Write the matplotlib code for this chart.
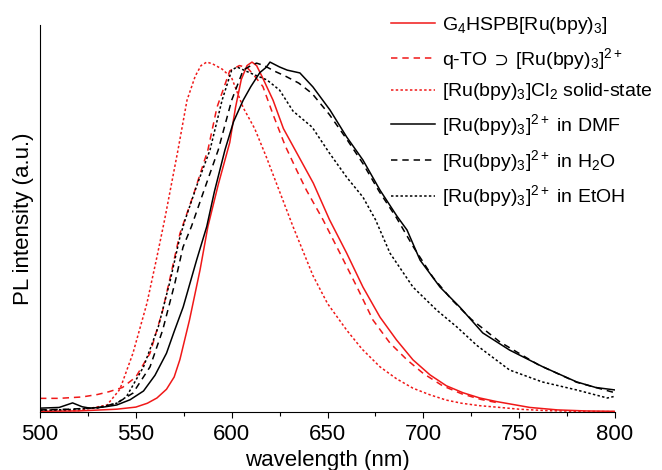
import matplotlib
matplotlib.use("Agg")
import matplotlib.pyplot as plt

plt.rcParams['font.family'] = ['Liberation Sans', 'DejaVu Sans']
plt.rcParams['mathtext.fontset'] = 'custom'
plt.rcParams['mathtext.rm'] = 'Liberation Sans'
plt.rcParams['mathtext.it'] = 'Liberation Sans:italic'
plt.rcParams['mathtext.bf'] = 'Liberation Sans:bold'
plt.rcParams['mathtext.fallback'] = 'stixsans'

# ---- data ----
wl_g4 = [500, 520, 540, 550, 556, 561, 566, 570, 573, 578, 583.5, 587.6, 593, 599, 602, 605, 608, 610.6,
         613, 616, 621.6, 627, 634, 642.6, 651, 660, 668.5, 677.4, 686, 694.6, 703.5, 712, 720.7, 729.5,
         738, 755.6, 770, 785, 800]
pl_g4 = [0.002, 0.003, 0.008, 0.014, 0.025, 0.04, 0.065, 0.10, 0.15, 0.263, 0.406, 0.53, 0.65, 0.77, 0.87,
         0.95, 0.99, 1.0, 0.99, 0.957, 0.891, 0.81, 0.74, 0.654, 0.55, 0.454, 0.357, 0.271, 0.206, 0.149,
         0.106, 0.075, 0.055, 0.04, 0.030, 0.013, 0.006, 0.003, 0.002]

wl_qto = [500, 510, 522, 530, 536, 543, 550, 557.4, 564, 568.8, 573, 580, 587.6, 592.3, 599, 604, 608, 612,
          616.3, 621.6, 628, 634, 639, 647.7, 656.5, 665.4, 673.7, 682.6, 691.5, 700, 710, 720, 730, 740]
pl_qto = [0.039, 0.039, 0.043, 0.05, 0.058, 0.07, 0.10, 0.168, 0.29, 0.406, 0.51, 0.62, 0.749, 0.87, 0.975,
          0.99, 0.985, 0.96, 0.93, 0.85, 0.76, 0.69, 0.634, 0.549, 0.454, 0.357, 0.263, 0.197, 0.149, 0.11,
          0.075, 0.052, 0.036, 0.025]

wl_solid = [500, 520, 535, 541.7, 548.5, 555.8, 561, 565, 572, 576.7, 581, 584, 587, 590, 595, 600, 606, 612,
            618, 625, 632, 642.4, 650, 660, 668, 677.4, 686, 694.6, 703.5, 712, 720, 729.5, 738, 750, 764,
            780, 800]
pl_solid = [0.004, 0.004, 0.02, 0.065, 0.168, 0.311, 0.443, 0.549, 0.749, 0.891, 0.96, 0.99, 1.0, 0.995, 0.98,
            0.955, 0.87, 0.81, 0.73, 0.63, 0.53, 0.39, 0.31, 0.234, 0.18, 0.129, 0.095, 0.068, 0.049, 0.034,
            0.025, 0.018, 0.014, 0.008, 0.004, 0.002, 0.001]

wl_dmf = [500, 510, 517, 522, 526, 533, 540, 547, 554, 560, 566, 570, 574.7, 581.7, 587, 591, 596.5, 601, 606,
          610, 614.7, 618, 620, 625, 629, 635.6, 642.4, 651.3, 660, 668.5, 677.4, 686.2, 691.5, 698.3, 708.7,
          719, 731, 745, 762.4, 780, 790, 800]
pl_dmf = [0.011, 0.013, 0.026, 0.015, 0.011, 0.014, 0.02, 0.035, 0.06, 0.105, 0.168, 0.23, 0.30, 0.434, 0.53,
          0.63, 0.749, 0.83, 0.891, 0.93, 0.97, 0.985, 1.0, 0.986, 0.977, 0.969, 0.929, 0.863, 0.786, 0.72,
          0.634, 0.56, 0.52, 0.434, 0.357, 0.30, 0.226, 0.177, 0.129, 0.086, 0.07, 0.063]

wl_h2o = [500, 515, 530, 540, 548.5, 557.4, 564, 570.4, 574.6, 579, 586, 593, 600, 606, 610, 613, 617, 622,
          628, 635, 642, 651, 660, 668.5, 677, 686, 695, 705, 715, 725, 740, 760, 780, 800]
pl_h2o = [0.006, 0.008, 0.012, 0.025, 0.054, 0.129, 0.234, 0.369, 0.471, 0.53, 0.64, 0.749, 0.891, 0.977,
          0.99, 0.997, 0.99, 0.975, 0.96, 0.94, 0.91, 0.85, 0.78, 0.71, 0.63, 0.555, 0.47, 0.385, 0.32,
          0.265, 0.20, 0.135, 0.085, 0.055]

wl_etoh = [500, 515, 530, 540, 545, 554, 561.7, 568, 573, 575.7, 582, 588.7, 595, 600, 602.8, 609.6, 618.4,
           625, 632, 642, 651, 660, 668.5, 675, 682.6, 694.6, 707, 717.5, 728, 736, 745, 762, 780, 796, 800]
pl_etoh = [0.005, 0.007, 0.012, 0.025, 0.043, 0.129, 0.243, 0.377, 0.5, 0.549, 0.65, 0.749, 0.891, 0.977,
           0.986, 0.969, 0.949, 0.92, 0.86, 0.814, 0.74, 0.671, 0.614, 0.55, 0.454, 0.357, 0.291, 0.243,
           0.19, 0.157, 0.12, 0.086, 0.063, 0.04, 0.045]

labels = [r'G$_4$HSPB[Ru(bpy)$_3$]',
          r'q-TO$\;\supset\;$[Ru(bpy)$_3$]$^{2+}$',
          r'[Ru(bpy)$_3$]Cl$_2$ solid-state',
          r'[Ru(bpy)$_3$]$^{2+}$ in DMF',
          r'[Ru(bpy)$_3$]$^{2+}$ in H$_2$O',
          r'[Ru(bpy)$_3$]$^{2+}$ in EtOH']
xticks = [500, 550, 600, 650, 700, 750, 800]

RED = '#f01818'
DASH = (0, (4.2, 3.2))
DOT = (0, (1.6, 1.5))
fig = plt.figure(figsize=(6.62, 4.70), dpi=100)
ax = fig.add_axes([40/662, 1-412/470, 575/662, 387/470])

lw = 1.1
ax.plot(wl_g4, pl_g4, color=RED, lw=lw, ls='-', label=labels[0])
ax.plot(wl_qto, pl_qto, color=RED, lw=lw, ls=DASH, label=labels[1])
ax.plot(wl_solid, pl_solid, color=RED, lw=lw, ls=DOT, label=labels[2])
ax.plot(wl_dmf, pl_dmf, color='black', lw=lw, ls='-', label=labels[3])
ax.plot(wl_h2o, pl_h2o, color='black', lw=lw, ls=DASH, label=labels[4])
ax.plot(wl_etoh, pl_etoh, color='black', lw=lw, ls=DOT, label=labels[5])

ax.set_xlim(500, 800)
ax.set_ylim(0, 1.106)
ax.set_xticks(xticks)
ax.set_xticks([525, 575, 625, 675, 725, 775], minor=True)
ax.set_yticks([])
ax.tick_params(axis='x', which='major', direction='out', length=4.3, width=0.8, labelsize=16, pad=4)
ax.tick_params(axis='x', which='minor', direction='out', length=2.7, width=0.8)
for s in ['top', 'right']:
    ax.spines[s].set_visible(False)
for s in ['left', 'bottom']:
    ax.spines[s].set_linewidth(0.8)

ax.set_xlabel('wavelength (nm)', fontsize=16, labelpad=4)
ax.set_ylabel('PL intensity (a.u.)', fontsize=16, labelpad=4)

leg = fig.legend(loc='upper left', bbox_to_anchor=(391/662, 1-15/470), frameon=False,
                 fontsize=14, handlelength=2.27, handletextpad=0.36, labelspacing=0.5,
                 borderpad=0, borderaxespad=0)

fig.savefig('out.png', dpi=100)
